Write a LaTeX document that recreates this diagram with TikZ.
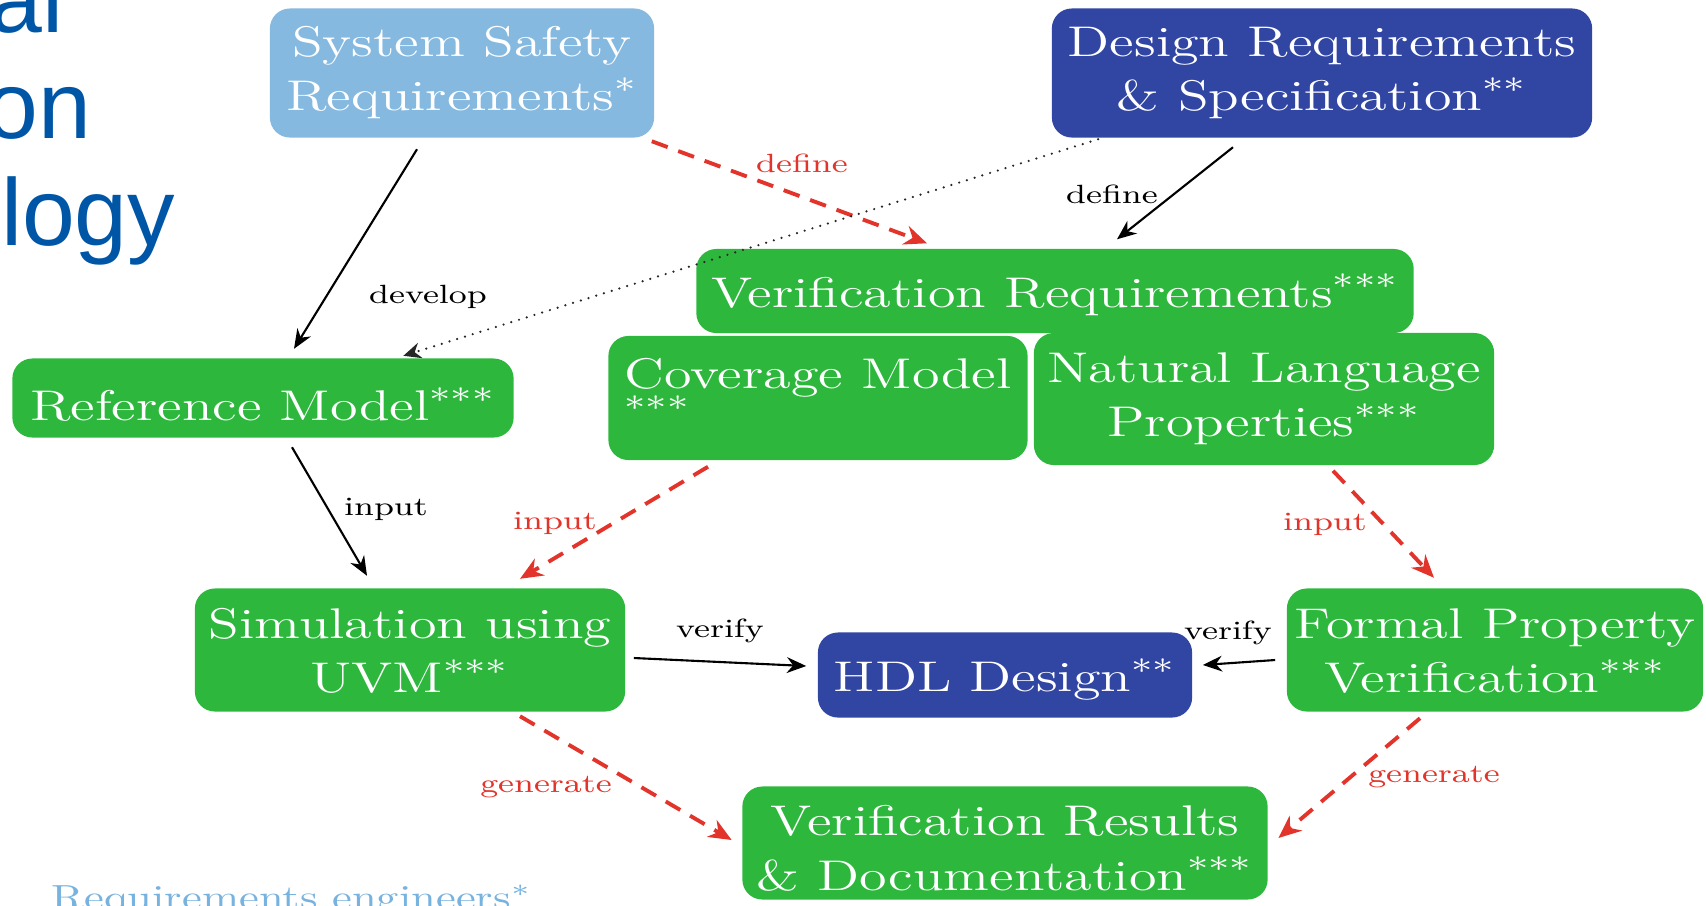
\documentclass[tikz,border=0pt]{standalone}
\usepackage{fontspec}
\usepackage{graphicx}
\usetikzlibrary{calc,arrows.meta}
\newfontfamily\titlefont{Liberation Sans}
\definecolor{lblue}{RGB}{134,185,224}
\definecolor{dblue}{RGB}{49,69,163}
\definecolor{vgreen}{RGB}{45,184,61}
\definecolor{ered}{RGB}{226,52,42}
\definecolor{tblue}{RGB}{0,86,166}
\definecolor{eblue}{RGB}{120,178,222}
\newcommand{\wt}[1]{\scalebox{1.31}[1]{\begin{tabular}{@{}c@{}}#1\end{tabular}}}
\newcommand{\wl}[1]{\scalebox{1.31}[1]{\begin{tabular}{@{}l@{}}#1\end{tabular}}}
\newcommand{\wtd}[2]{\raisebox{-#1}[\height][\depth]{\wt{#2}}}
\newcommand{\ws}[1]{\scalebox{1.28}[1]{#1}}
\newcommand{\sstar}[1]{$^{\raisebox{0.8pt}{$\scriptstyle #1$}}$}
\tikzset{
  box/.style={rounded corners=0.2cm, text=white, inner sep=0pt, align=center,
    font=\fontsize{12.2}{15.4}\selectfont\addfontfeatures{FakeBold=1.2}},
  lb/.style={box, fill=lblue},
  db/.style={box, fill=dblue},
  gb/.style={box, fill=vgreen},
  lab/.style={inner sep=1pt, font=\fontsize{7.5}{9}\selectfont},
  rlab/.style={lab, text=ered},
  blab/.style={lab, text=black},
  solidarrow/.style={draw=black, line width=0.6pt, -{Stealth[length=5.5pt,width=4.5pt]}},
  redarrow/.style={draw=ered, line width=1.1pt, dash pattern=on 4.8pt off 3.2pt, -{Stealth[length=6.5pt,width=5.5pt]}},
  dotarrow/.style={draw=black!85, line width=0.7pt, line cap=round, dash pattern=on 0pt off 2.3pt, -{Stealth[length=5pt,width=4.5pt]}},
  ttl/.style={anchor=base east, inner sep=0pt, text=tblue, font=\titlefont\fontsize{27}{30}\selectfont}
}
\begin{document}
\begin{tikzpicture}[x=0.01cm,y=-0.01cm]
\useasboundingbox (0,0) rectangle (1706,905);
% title fragments
\node[ttl] (t1) at (64,32) {al};
\node[ttl] (t2) at (92,138) {on};
\node[ttl] (t3) at (176,245) {logy};
% footer
\node[anchor=base west, inner sep=0pt, text=eblue, font=\fontsize{9.9}{12}\selectfont] (foot) at (51,909) {\ws{Requirements engineers$^{*}$}};
% boxes
\node[lb, minimum width=3.84cm, minimum height=1.29cm] (ssr) at (462,73) {\wt{System Safety\\Requirements\sstar{*}}};
\node[db, minimum width=5.40cm, minimum height=1.29cm] (drs) at (1322,73) {\wt{Design Requirements\\\& Specification\sstar{**}}};
\node[gb, minimum width=7.17cm, minimum height=0.84cm] (vr) at (1055,291) {\wtd{1.5pt}{Verification Requirements\sstar{***}}};
\node[gb, minimum width=4.19cm, minimum height=1.24cm] (cm) at (818,398) {\wl{Coverage Model\\[-4pt]\sstar{***}}};
\node[gb, minimum width=4.60cm, minimum height=1.32cm] (nlp) at (1264,399) {\wt{Natural Language\\Properties\sstar{***}}};
\node[gb, minimum width=5.01cm, minimum height=0.79cm] (rm) at (263,398) {\wtd{3.4pt}{Reference Model\sstar{***}}};
\node[gb, minimum width=4.30cm, minimum height=1.23cm] (sim) at (410,650) {\wtd{1.4pt}{Simulation using\\UVM\sstar{***}}};
\node[db, minimum width=3.74cm, minimum height=0.85cm] (hdl) at (1005,675) {\wtd{1.5pt}{HDL Design\sstar{**}}};
\node[gb, minimum width=4.16cm, minimum height=1.23cm] (fpv) at (1495,650) {\wtd{1.4pt}{Formal Property\\Verification\sstar{***}}};
\node[gb, minimum width=5.25cm, minimum height=1.13cm] (vrd) at (1005,843) {\wtd{2.6pt}{Verification Results\\\& Documentation\sstar{***}}};
% connectors
\draw[solidarrow] ($(ssr.south)+(-45,11)$) -- ($(rm.north)+(31,-9)$);
\draw[redarrow] ($(ssr.south east)+(-3,3)$) -- ($(vr.north)+(-128,-5)$);
\draw[solidarrow] ($(drs.south)+(-89,9)$) -- ($(vr.north)+(62,-9)$);
\draw[dotarrow] ($(drs.south west)+(47,1)$) -- ($(rm.north east)+(-111,-2)$);
\draw[solidarrow] ($(rm.south)+(29,9)$) -- ($(sim.north)+(-43,-12)$);
\draw[redarrow] ($(cm.south)+(-110,6)$) -- ($(sim.north)+(110,-9)$);
\draw[redarrow] ($(nlp.south)+(69,5)$) -- ($(fpv.north)+(-61,-10)$);
\draw[solidarrow] ($(sim.east)+(8,8)$) -- ($(hdl.west)+(-11,-9)$);
\draw[solidarrow] ($(fpv.west)+(-11,10)$) -- ($(hdl.east)+(10,-10)$);
\draw[redarrow] ($(sim.south)+(110,4)$) -- ($(vrd.west)+(-10,-3)$);
\draw[redarrow] ($(fpv.south)+(-75,6)$) -- ($(vrd.east)+(10,-5)$);
% labels
\node[blab] (l1) at (428,297) {\ws{develop}};
\node[rlab] (l2) at (802,163) {\ws{define}};
\node[blab] (l3) at (1112,194) {\ws{define}};
\node[blab] (l4) at (386,509) {\ws{input}};
\node[rlab] (l5) at (555,523) {\ws{input}};
\node[rlab] (l6) at (1325,524) {\ws{input}};
\node[blab] (l7) at (720,631) {\ws{verify}};
\node[blab] (l8) at (1228,633) {\ws{verify}};
\node[rlab] (l9) at (546,787) {\ws{generate}};
\node[rlab] (l10) at (1434,777) {\ws{generate}};
\end{tikzpicture}
\end{document}
